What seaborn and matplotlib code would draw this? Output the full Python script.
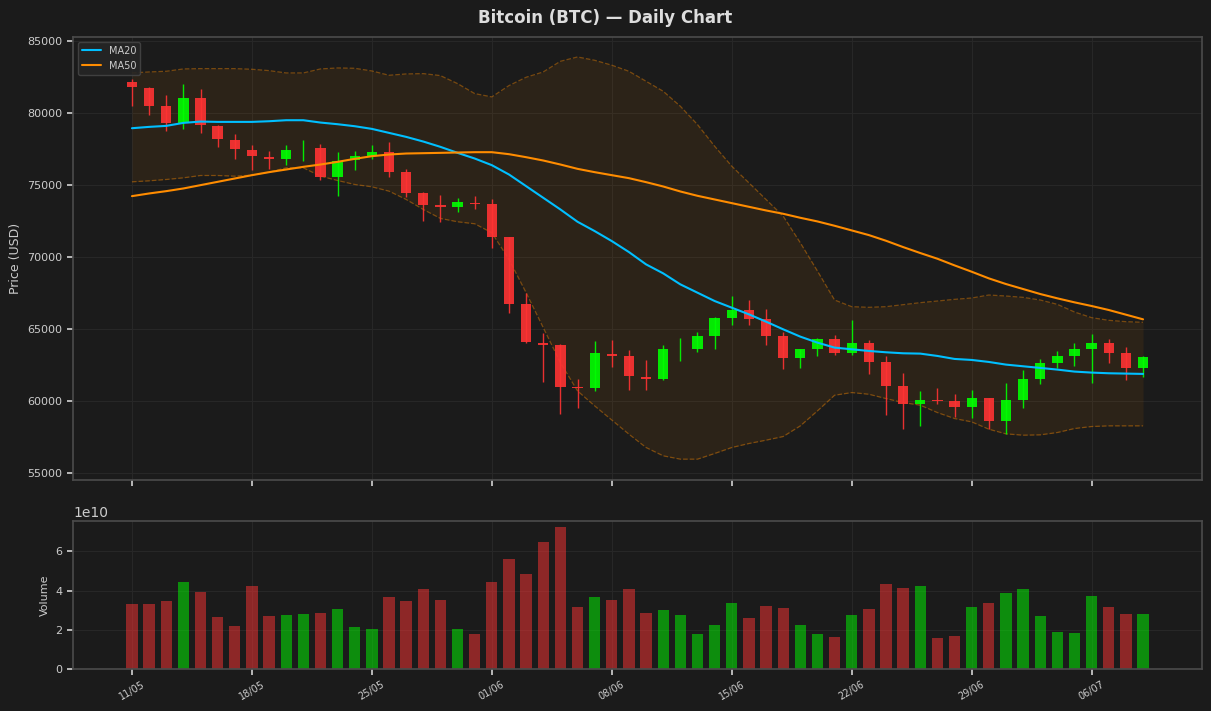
import numpy as np
import pandas as pd
import matplotlib
matplotlib.use("Agg")
import matplotlib.pyplot as plt
import seaborn as sns

# ---------------- data ----------------
tick_labels = ["11/05", "18/05", "25/05", "01/06", "08/06", "15/06", "22/06", "29/06", "06/07"]

opens = [82176, 81759, 80509, 79352, 81065, 79120, 78171, 77477, 76991, 76806,
         77560, 77616, 75556, 76736, 77060, 77338, 75880, 74421, 73588, 73472,
         73773, 73657, 71366, 66713, 64051, 63866, 60949, 60903, 63250, 63102,
         61667, 61505, 63600, 63611, 64514, 65764, 66296, 65671, 64491, 62986,
         63611, 64282, 63333, 64005, 62685, 61019, 59769, 60069, 59977, 59583,
         60185, 58611, 60069, 61528, 62639, 63125, 63611, 64005, 63310, 62292]
closes = [81806, 80532, 79352, 81065, 79167, 78194, 77500, 77014, 76806, 77477,
          77600, 75556, 76713, 77060, 77338, 75903, 74444, 73611, 73495, 73796,
          73704, 71389, 66736, 64097, 63912, 60972, 60880, 63310, 63150, 61713,
          61551, 63588, 63600, 64491, 65741, 66296, 65694, 64514, 62986, 63588,
          64282, 63333, 64005, 62708, 61042, 59792, 60046, 60000, 59583, 60185,
          58611, 60046, 61505, 62616, 63102, 63588, 64005, 63333, 62292, 63032]
highs = [82407, 81800, 81296, 82060, 81713, 79213, 78588, 77824, 77407, 77824,
         78171, 77894, 77338, 77407, 77824, 78032, 76088, 74491, 74282, 74074,
         74213, 74005, 71390, 67477, 64699, 63935, 61505, 64144, 64213, 63519,
         62824, 63866, 64352, 64792, 65833, 67292, 67014, 66389, 64792, 63600,
         64375, 64583, 65602, 64213, 63102, 61921, 60671, 60880, 60463, 60741,
         60200, 61250, 62153, 62894, 63472, 64028, 64653, 64282, 63750, 63125]
lows = [80486, 79861, 78750, 78889, 78611, 77639, 76806, 76019, 76111, 76435,
        76667, 75347, 74236, 76042, 76806, 75556, 74167, 72500, 72431, 73125,
        73333, 70625, 66111, 64051, 61343, 59120, 59514, 60694, 62361, 60741,
        60741, 61435, 62755, 63403, 63588, 65255, 65255, 63866, 62199, 62269,
        63125, 63194, 63194, 61875, 59028, 58056, 58264, 59792, 58866, 58819,
        58079, 57708, 59491, 61181, 62269, 62431, 61250, 62639, 61435, 61667]
volumes_e10 = [3.30, 3.30, 3.45, 4.43, 3.91, 2.63, 2.17, 4.22, 2.68, 2.74,
               2.79, 2.84, 3.04, 2.12, 2.02, 3.66, 3.45, 4.07, 3.50, 2.02,
               1.81, 4.43, 5.61, 4.84, 6.48, 7.25, 3.15, 3.66, 3.50, 4.07,
               2.84, 2.99, 2.74, 1.76, 2.22, 3.35, 2.58, 3.20, 3.09, 2.27,
               1.81, 1.61, 2.74, 3.04, 4.32, 4.12, 4.22, 1.56, 1.66, 3.15,
               3.35, 3.86, 4.07, 2.68, 1.91, 1.86, 3.71, 3.15, 2.79, 2.79]
ma20 = [78958, 79051, 79120, 79329, 79421, 79398, 79398, 79398, 79444, 79514,
        79514, 79352, 79236, 79097, 78912, 78634, 78356, 78032, 77662, 77245,
        76852, 76389, 75741, 74931, 74120, 73310, 72454, 71806, 71111, 70347,
        69491, 68866, 68102, 67523, 66944, 66481, 66019, 65509, 64977, 64468,
        64051, 63704, 63588, 63472, 63380, 63310, 63287, 63125, 62917, 62847,
        62708, 62523, 62407, 62292, 62176, 62037, 61968, 61921, 61898, 61875]
ma50 = [74236, 74421, 74583, 74769, 75000, 75231, 75463, 75694, 75903, 76088,
        76273, 76435, 76620, 76829, 77014, 77130, 77199, 77222, 77245, 77269,
        77292, 77292, 77153, 76944, 76713, 76435, 76134, 75903, 75694, 75486,
        75208, 74907, 74560, 74259, 74005, 73750, 73495, 73241, 73009, 72731,
        72477, 72176, 71852, 71528, 71134, 70694, 70280, 69884, 69421, 68981,
        68519, 68125, 67778, 67431, 67130, 66852, 66597, 66319, 65995, 65671]
band_upper = [82801, 82870, 82917, 83079, 83102, 83102, 83102, 83056, 82963, 82801,
              82801, 83079, 83148, 83125, 82940, 82639, 82731, 82755, 82616, 82060,
              81366, 81134, 81921, 82500, 82870, 83611, 83912, 83681, 83340, 82917,
              82222, 81528, 80486, 79213, 77708, 76319, 75162, 74005, 72847, 70995,
              69028, 67014, 66551, 66505, 66551, 66690, 66829, 66944, 67060, 67153,
              67361, 67292, 67199, 67014, 66713, 66181, 65787, 65602, 65509, 65463]
band_lower = [75231, 75301, 75394, 75509, 75671, 75671, 75625, 75694, 75903, 76204,
              76204, 75625, 75324, 75046, 74884, 74583, 74005, 73310, 72685, 72454,
              72315, 71690, 69838, 67523, 65093, 62662, 60694, 59653, 58670, 57685,
              56759, 56181, 55949, 55949, 56343, 56759, 57037, 57269, 57523, 58264,
              59306, 60394, 60579, 60463, 60162, 59884, 59700, 59190, 58773, 58542,
              58032, 57708, 57616, 57639, 57801, 58079, 58218, 58264, 58264, 58264]

# ---------------- styling ----------------
BG = "#1b1b1b"
sns.set_theme(style="darkgrid", rc={
    "figure.facecolor": BG, "axes.facecolor": BG, "savefig.facecolor": BG,
    "axes.edgecolor": "#4a4a4a", "grid.color": "#272727", "grid.linewidth": 0.8,
    "text.color": "#dddddd", "axes.labelcolor": "#cccccc",
    "xtick.color": "#cccccc", "ytick.color": "#cccccc",
    "xtick.bottom": True, "ytick.left": True,
    "xtick.major.size": 4, "ytick.major.size": 4,
})
plt.rcParams["font.family"] = ["DejaVu Sans"]

UP, DOWN = "#00ff00", "#ff3333"

n = len(opens)
df = pd.DataFrame({"x": np.arange(n), "open": opens, "close": closes, "high": highs,
                   "low": lows, "volume": np.array(volumes_e10) * 1e10,
                   "ma20": ma20, "ma50": ma50, "upper": band_upper, "lower": band_lower})
df["up"] = df["close"] >= df["open"]
df["color"] = np.where(df["up"], UP, DOWN)

fig = plt.figure(figsize=(12.11, 7.11), dpi=100)
ax = fig.add_axes([73/1211, 1 - 480/711, (1202-73)/1211, (480-37)/711])
axv = fig.add_axes([73/1211, 1 - 669/711, (1202-73)/1211, (669-521)/711], sharex=ax)

# band
ax.fill_between(df["x"], df["lower"], df["upper"], color="#ff8c00", alpha=0.08, linewidth=0)
ax.plot(df["x"], df["upper"], color="#ff8c00", alpha=0.4, lw=0.9, ls="--")
ax.plot(df["x"], df["lower"], color="#ff8c00", alpha=0.4, lw=0.9, ls="--")

# candles
ax.vlines(df["x"], df["low"], df["high"], colors=df["color"], lw=1.0, alpha=0.9, zorder=3)
body_bottom = np.minimum(df["open"], df["close"])
body_h = np.abs(df["close"] - df["open"])
ax.bar(df["x"], body_h, bottom=body_bottom, width=0.6, color=df["color"], alpha=0.9,
       linewidth=0, zorder=4)

# moving averages
sns.lineplot(data=df, x="x", y="ma20", ax=ax, color="#00bfff", lw=1.5, label="MA20", zorder=5)
sns.lineplot(data=df, x="x", y="ma50", ax=ax, color="#ff8c00", lw=1.5, label="MA50", zorder=5)

ax.set_ylim(54500, 85300)
ax.set_xlim(-3.44, n - 1 + 3.44)
ax.set_ylabel("Price (USD)", fontsize=9)
ax.set_xlabel("")
ax.tick_params(axis="both", labelsize=8, length=4, color="#cccccc")
ax.tick_params(axis="x", labelbottom=False)
leg = ax.legend(loc="upper left", fontsize=7, facecolor="#262626", edgecolor="#444444",
                framealpha=0.9)
for t in leg.get_texts():
    t.set_color("#cccccc")

# volume
sns.barplot(data=df, x="x", y="volume", hue="up", palette={True: UP, False: DOWN},
            native_scale=True, width=0.66, alpha=0.5, ax=axv, legend=False,
            linewidth=0, saturation=1)
axv.set_ylim(0, 7.55e10)
axv.set_ylabel("Volume", fontsize=8)
axv.set_xlabel("")
axv.tick_params(axis="both", labelsize=8, length=4, color="#cccccc")
axv.yaxis.get_offset_text().set_fontsize(10)
axv.yaxis.get_offset_text().set_color("#cccccc")

tick_pos = np.arange(0, n, 7)[:len(tick_labels)]
axv.set_xticks(tick_pos)
axv.set_xticklabels(tick_labels, rotation=30, fontsize=7)
axv.set_xlim(-3.44, n - 1 + 3.44)
ax.set_xticks(tick_pos)

for a in (ax, axv):
    a.grid(True, color="#272727", lw=0.8)
    for s in a.spines.values():
        s.set_color("#4a4a4a")
        s.set_visible(True)

fig.suptitle("Bitcoin (BTC) — Daily Chart", fontsize=12, fontweight="bold", color="#dddddd",
             y=1 - 18/711, va="center")

fig.savefig("out.png", dpi=100)
